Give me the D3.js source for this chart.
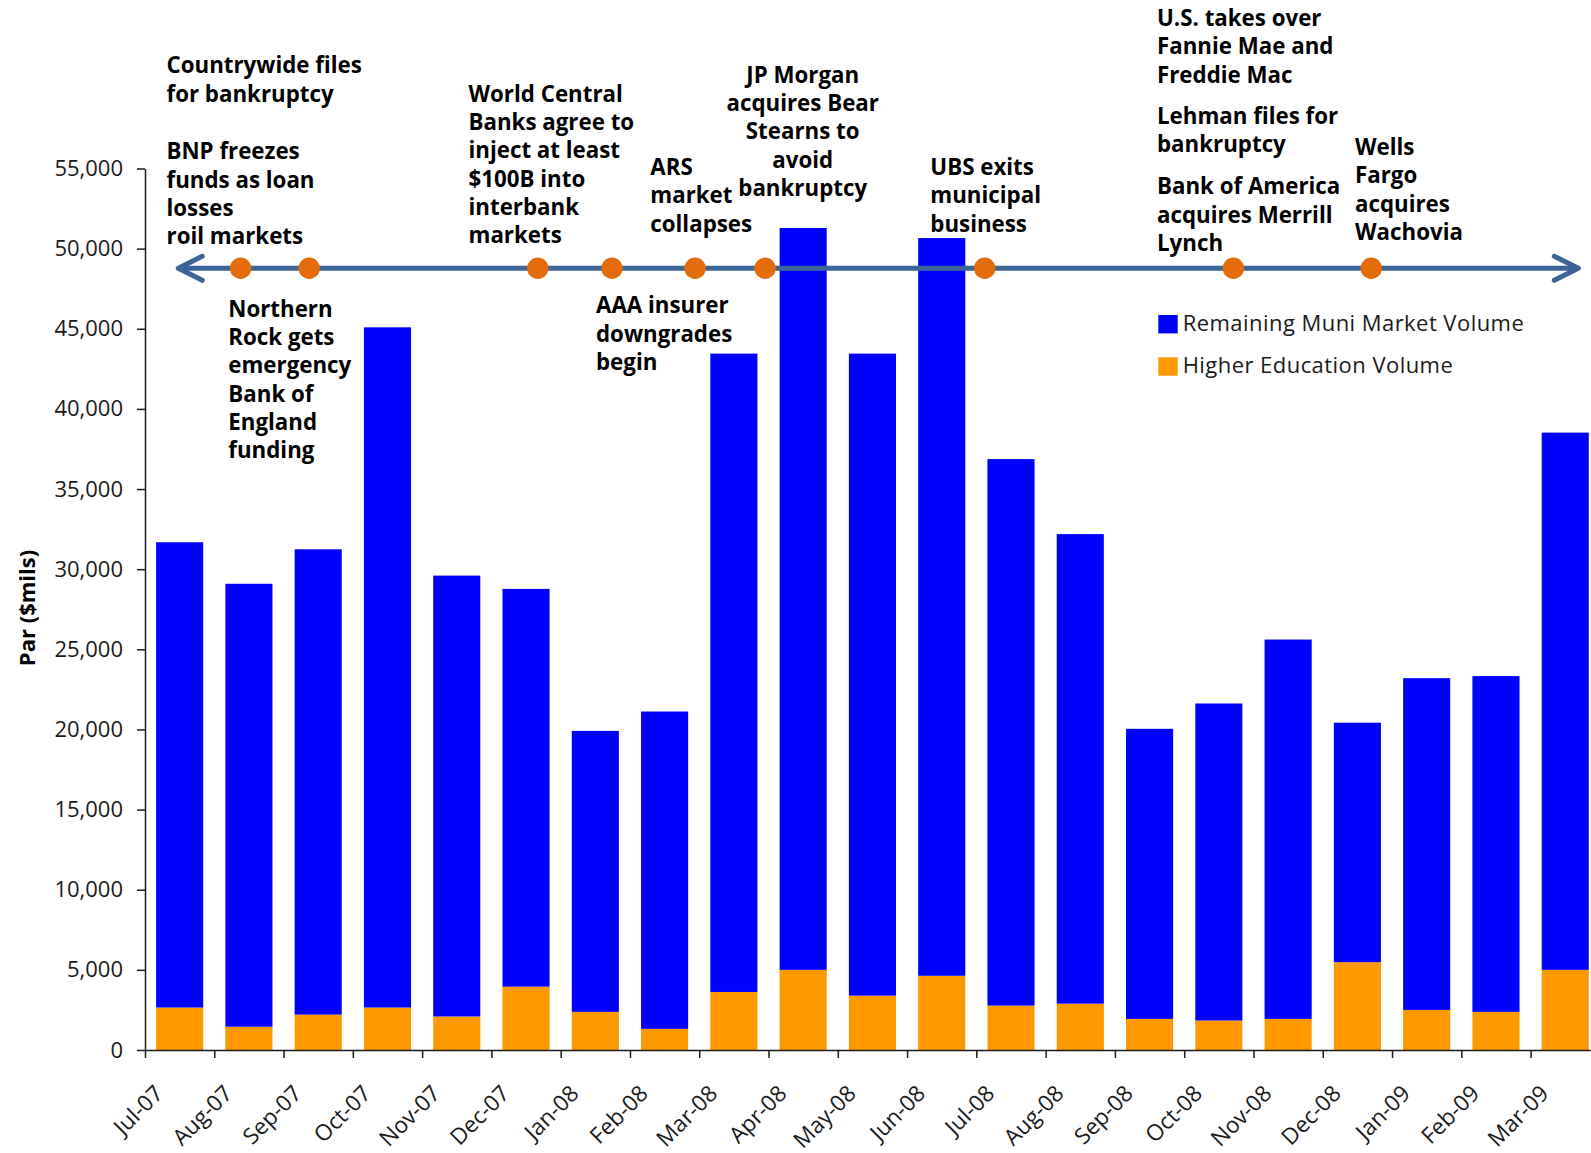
<!DOCTYPE html>
<html>
<head>
<meta charset="utf-8">
<script src="https://cdn.jsdelivr.net/npm/d3@7"></script>
<style>
  html, body { margin: 0; padding: 0; background: #fff; }
  svg { display: block; }
</style>
</head>
<body>
<svg id="chart" width="1591" height="1153"></svg>
<script>
// ---------------- DATA ----------------
const months = ["Jul-07","Aug-07","Sep-07","Oct-07","Nov-07","Dec-07","Jan-08","Feb-08","Mar-08","Apr-08",
  "May-08","Jun-08","Jul-08","Aug-08","Sep-08","Oct-08","Nov-08","Dec-08","Jan-09","Feb-09","Mar-09"];
const higherEducation = [2650,1450,2210,2650,2090,3950,2380,1320,3620,5000,
  3390,4630,2770,2890,1940,1840,1940,5480,2500,2380,5000];
const remainingMuni = [29030,27640,29030,42440,27510,24820,17530,19800,39830,46290,
  40060,46030,34100,29300,18100,19780,23670,14940,20700,20950,33520];
const yTicks = [0,5000,10000,15000,20000,25000,30000,35000,40000,45000,50000,55000];
const seriesNames = ["Remaining Muni Market Volume","Higher Education Volume"];
const yTitle = "Par ($mils)";
// event markers on the timeline, in month-index units (0 = start of Jul-07)
const eventPos = [1.38, 2.37, 5.67, 6.74, 7.94, 8.95, 12.12, 15.71, 17.70];
const eventTexts = [
  ["Countrywide files","for bankruptcy"],
  ["BNP freezes","funds as loan","losses","roil markets"],
  ["Northern","Rock gets","emergency","Bank of","England","funding"],
  ["World Central","Banks agree to","inject at least","$100B into","interbank","markets"],
  ["AAA insurer","downgrades","begin"],
  ["ARS","market","collapses"],
  ["JP Morgan","acquires Bear","Stearns to","avoid","bankruptcy"],
  ["UBS exits","municipal","business"],
  ["U.S. takes over","Fannie Mae and","Freddie Mac"],
  ["Lehman files for","bankruptcy"],
  ["Bank of America","acquires Merrill","Lynch"],
  ["Wells","Fargo","acquires","Wachovia"]
];

// ---------------- LAYOUT ----------------
const W = 1591, H = 1153;
const plotLeft = 145, plotBottom = 1050, plotTop = 168.5;
const step = 69.28;
const plotRight = plotLeft + months.length * step;
const timelineY = 268.3, timelineX0 = 178.3, timelineX1 = 1578.3;
const lineH = 28.3;
const annoLayout = [
  {x:166.5, y:73.3, a:"start"},
  {x:166.5, y:159.3, a:"start"},
  {x:228.3, y:316.7, a:"start"},
  {x:468.5, y:101.7, a:"start"},
  {x:596, y:313.3, a:"start"},
  {x:650.3, y:175, a:"start"},
  {x:802.7, y:82.7, a:"middle"},
  {x:930.3, y:175, a:"start"},
  {x:1157, y:26, a:"start"},
  {x:1157, y:124, a:"start"},
  {x:1157, y:194.3, a:"start"},
  {x:1355, y:155, a:"start"}
];
const colors = { remaining:"#0000FF", higher:"#FF9900", line:"#3C6496", dot:"#E46C0A" };
const FONT = "'Open Sans', 'Noto Sans', sans-serif";

const svg = d3.select("#chart");

const y = d3.scaleLinear().domain([0, 55000]).range([plotBottom, plotTop]);
const x = d3.scaleBand().domain(months).range([plotLeft, plotRight])
  .paddingInner(0.32).paddingOuter(0.16);
const xb = d3.scaleLinear().domain([0, months.length]).range([plotLeft, plotRight]);

// stacked data
const rows = months.map((m,i) => ({month:m, higher:higherEducation[i], remaining:remainingMuni[i]}));
const stack = d3.stack().keys(["higher","remaining"])(rows);

svg.append("g").selectAll("g").data(stack).join("g")
  .attr("fill", d => d.key === "higher" ? colors.higher : colors.remaining)
  .selectAll("rect").data(d => d).join("rect")
  .attr("x", d => x(d.data.month))
  .attr("width", x.bandwidth())
  .attr("y", d => y(d[1]))
  .attr("height", d => y(d[0]) - y(d[1]));

// y axis
const yAxis = svg.append("g").attr("transform", `translate(${plotLeft},0)`)
  .call(d3.axisLeft(y).tickValues(yTicks).tickSize(8).tickSizeOuter(0).tickPadding(14)
    .tickFormat(d3.format(",")));
yAxis.selectAll("path,line").attr("stroke", "#1a1a1a").attr("stroke-width", 1.5);
yAxis.selectAll("text").attr("font-family", FONT).attr("font-size", 22).attr("fill", "#1a1a1a");

// x axis (ticks at month boundaries)
const xAxis = svg.append("g").attr("transform", `translate(0,${plotBottom})`)
  .call(d3.axisBottom(xb).tickValues(d3.range(months.length)).tickSize(8).tickSizeOuter(0)
    .tickFormat(i => months[i]));
xAxis.selectAll("path,line").attr("stroke", "#1a1a1a").attr("stroke-width", 1.5);
xAxis.selectAll("text")
  .attr("font-family", FONT).attr("font-size", 22.5).attr("fill", "#1a1a1a")
  .attr("x", 0).attr("y", 0).attr("dy", 0)
  .attr("text-anchor", "end")
  .attr("transform", "translate(19,45) rotate(-45)");

// y title
svg.append("text")
  .attr("transform", `translate(35,608) rotate(-90)`)
  .attr("text-anchor", "middle")
  .attr("font-family", FONT).attr("font-weight", 700).attr("font-size", 22)
  .attr("fill", "#000").text(yTitle);

// timeline
const tl = svg.append("g");
tl.append("line").attr("x1", timelineX0 + 2).attr("x2", timelineX1 - 2)
  .attr("y1", timelineY).attr("y2", timelineY)
  .attr("stroke", colors.line).attr("stroke-width", 5);
const ah = 24, av = 12;
tl.append("path")
  .attr("d", `M${timelineX0 + ah},${timelineY - av} L${timelineX0},${timelineY} L${timelineX0 + ah},${timelineY + av}`)
  .attr("fill", "none").attr("stroke", colors.line).attr("stroke-width", 5)
  .attr("stroke-linecap", "round").attr("stroke-linejoin", "round");
tl.append("path")
  .attr("d", `M${timelineX1 - ah},${timelineY - av} L${timelineX1},${timelineY} L${timelineX1 - ah},${timelineY + av}`)
  .attr("fill", "none").attr("stroke", colors.line).attr("stroke-width", 5)
  .attr("stroke-linecap", "round").attr("stroke-linejoin", "round");
tl.selectAll("circle").data(eventPos).join("circle")
  .attr("cx", d => xb(d)).attr("cy", timelineY).attr("r", 10.7)
  .attr("fill", colors.dot);

// annotations
const ag = svg.append("g").attr("font-family", FONT).attr("font-weight", 700)
  .attr("font-size", 22.3).attr("fill", "#000");
eventTexts.forEach((lines, i) => {
  const L = annoLayout[i];
  const t = ag.append("text").attr("text-anchor", L.a);
  lines.forEach((ln, j) => {
    t.append("tspan").attr("x", L.x).attr("y", L.y + j * lineH).text(ln);
  });
});

// legend
const lg = svg.append("g").attr("font-family", FONT).attr("font-size", 22).attr("fill", "#1a1a1a");
const legendItems = [
  {name: seriesNames[0], color: colors.remaining, y: 315},
  {name: seriesNames[1], color: colors.higher, y: 357.3}
];
legendItems.forEach(it => {
  lg.append("rect").attr("x", 1158.3).attr("y", it.y).attr("width", 19.4).attr("height", 18.4).attr("fill", it.color);
  lg.append("text").attr("x", 1182.7).attr("y", it.y + 16).attr("letter-spacing", 0.45).text(it.name);
});
</script>
</body>
</html>
